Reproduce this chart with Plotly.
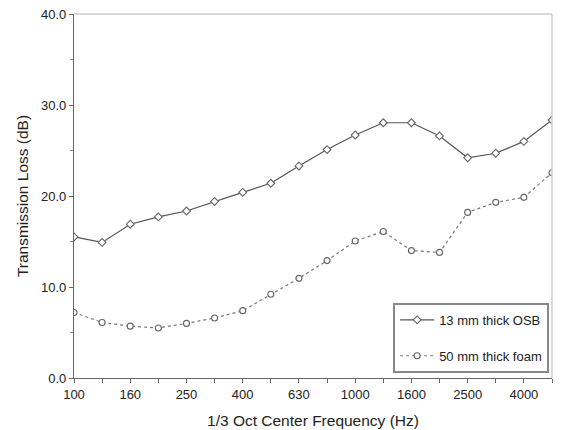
import plotly.graph_objects as go

# 1/3-octave band centre frequencies (Hz)
bands = ["100", "125", "160", "200", "250", "315", "400", "500", "630", "800",
         "1000", "1250", "1600", "2000", "2500", "3150", "4000", "5000"]
tick_labels = ["100", "", "160", "", "250", "", "400", "", "630", "",
               "1000", "", "1600", "", "2500", "", "4000", ""]

# Transmission loss (dB)
osb_13mm = [15.5, 14.9, 16.9, 17.7, 18.35, 19.4, 20.4, 21.4, 23.3, 25.1,
            26.7, 28.05, 28.05, 26.6, 24.2, 24.7, 26.0, 28.35]
foam_50mm = [7.2, 6.1, 5.7, 5.5, 6.0, 6.6, 7.4, 9.2, 10.95, 12.9,
             15.05, 16.1, 14.0, 13.8, 18.2, 19.3, 19.85, 22.55]

fig = go.Figure()
fig.add_trace(go.Scatter(
    x=bands, y=osb_13mm, name="13 mm thick OSB", mode="lines+markers",
    legendgroup="a",
    line=dict(color="#555555", width=1.2),
    marker=dict(symbol="diamond", size=6, color="white",
                line=dict(color="#666666", width=1.1)),
))
fig.add_trace(go.Scatter(
    x=bands, y=foam_50mm, name="50 mm thick foam", mode="lines+markers",
    legendgroup="b",
    line=dict(color="#777777", width=1.2, dash="dot"),
    marker=dict(symbol="circle", size=6, color="white",
                line=dict(color="#666666", width=1.1)),
))

font_family = "Liberation Sans, Arial, sans-serif"

fig.update_layout(
    width=563, height=430,
    margin=dict(l=74, r=11, t=14, b=52),
    paper_bgcolor="white", plot_bgcolor="white",
    font=dict(family=font_family, size=13, color="#222222"),
    showlegend=True,
    legend=dict(
        x=0.994, y=0.014, xanchor="right", yanchor="bottom",
        bgcolor="white", bordercolor="#888888", borderwidth=2,
        font=dict(size=13, color="#222222"),
        tracegroupgap=16, traceorder="grouped",
        itemwidth=34,
    ),
    xaxis=dict(
        type="category", range=[0, 17], automargin=False,
        tickmode="array", tickvals=bands, ticktext=tick_labels,
        ticks="outside", ticklen=4, tickcolor="#666666",
        showline=True, linecolor="#666666", linewidth=1.2,
        showgrid=False, zeroline=False,
        title=dict(text="1/3 Oct Center Frequency (Hz)", font=dict(size=15.5),
                   standoff=14),
        tickfont=dict(size=13),
    ),
    yaxis=dict(
        range=[0, 40], dtick=10, tickformat=".1f", automargin=False,
        ticks="outside", ticklen=4, tickcolor="#666666",
        minor=dict(dtick=5, ticks="outside", ticklen=3, tickcolor="#888888"),
        showline=True, linecolor="#666666", linewidth=1.2,
        showgrid=False, zeroline=False,
        title=dict(text="Transmission Loss (dB)", font=dict(size=15.5),
                   standoff=8),
        tickfont=dict(size=13),
    ),
    shapes=[
        dict(type="line", xref="paper", yref="paper", x0=0, x1=1, y0=1, y1=1,
             line=dict(color="#cccccc", width=1.5)),
        dict(type="line", xref="paper", yref="paper", x0=1, x1=1, y0=0, y1=1,
             line=dict(color="#cccccc", width=1.5)),
    ],
)

fig.write_html("out.html")
